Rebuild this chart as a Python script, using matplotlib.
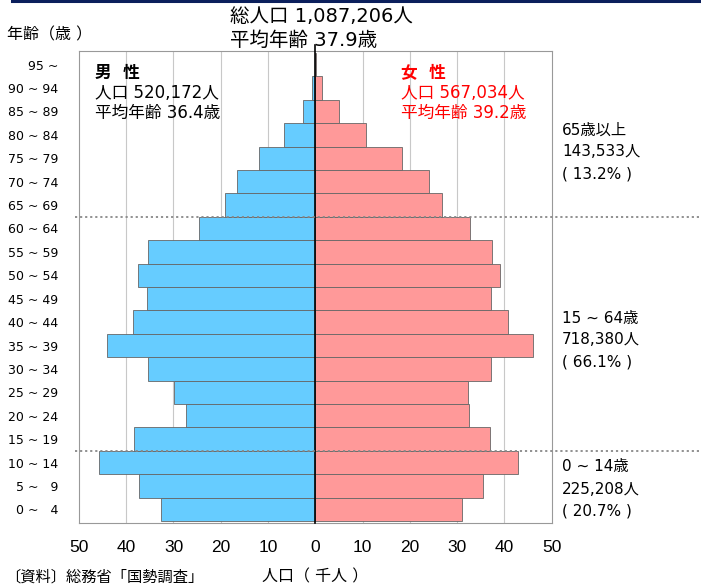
import matplotlib.pyplot as plt
from matplotlib.lines import Line2D

plt.rcParams["font.family"] = ["DejaVu Sans", "Noto Sans CJK JP"]

# ── Data (thousand persons), bottom row first ────────────────────────────────
AGES = ["0 ~ \u20074", "5 ~ \u20079", "10 ~ 14", "15 ~ 19", "20 ~ 24", "25 ~ 29",
        "30 ~ 34", "35 ~ 39", "40 ~ 44", "45 ~ 49", "50 ~ 54", "55 ~ 59",
        "60 ~ 64", "65 ~ 69", "70 ~ 74", "75 ~ 79", "80 ~ 84", "85 ~ 89",
        "90 ~ 94", "95 ~"]
MALE = [32.6, 37.4, 45.8, 38.3, 27.3, 29.9, 35.5, 44.1, 38.6, 35.7,
        37.6, 35.5, 24.7, 19.2, 16.5, 11.9, 6.6, 2.5, 0.7, 0.1]
FEMALE = [31.0, 35.6, 43.0, 36.9, 32.5, 32.3, 37.3, 46.0, 40.8, 37.1,
          39.2, 37.4, 32.8, 26.9, 24.0, 18.3, 10.7, 5.1, 1.4, 0.2]
XTICKS = [-50, -40, -30, -20, -10, 0, 10, 20, 30, 40, 50]

BLUE = "#66CCFF"
PINK = "#FF9999"
EDGE = "#666666"
W, H = 701, 585


def fx(px):
    return px / W


def fy(py):
    return 1 - py / H


fig = plt.figure(figsize=(W / 100, H / 100), dpi=100)
ax = fig.add_axes([fx(79), fy(523), fx(551.5) - fx(79), fy(51) - fy(523)])

ys = list(range(len(AGES)))
ax.barh(ys, [-m for m in MALE], height=1.0, color=BLUE, edgecolor=EDGE,
        linewidth=0.6, zorder=2)
ax.barh(ys, FEMALE, height=1.0, color=PINK, edgecolor=EDGE,
        linewidth=0.6, zorder=2)

# grid lines
for x in XTICKS[1:-1]:
    if x != 0:
        ax.axvline(x, color="#c8c8c8", lw=0.8, zorder=1)
ax.axvline(0, ymin=0, ymax=1.013, color="black", lw=1.2, zorder=3, clip_on=False)

# age-group dividers (65+, 15-64, 0-14)
for yb in (12.5, 2.5):
    ax.axhline(yb, xmin=-0.008, xmax=1.314, color="#888888", lw=1.3,
               ls=(0, (1.2, 1.6)), zorder=4, clip_on=False)

ax.set_xlim(-50, 50)
ax.set_ylim(-0.58, len(AGES) - 0.42)
ax.set_xticks(XTICKS)
ax.set_xticklabels([str(abs(t)) for t in XTICKS], fontsize=12.5,
                   family="Liberation Sans")
ax.set_yticks(ys)
ax.set_yticklabels(AGES, fontsize=9)
ax.tick_params(axis="x", length=0, pad=12)
ax.tick_params(axis="y", length=0, pad=15)
for s in ax.spines.values():
    s.set_color("#999999")
    s.set_linewidth(0.8)

# top navy rule
fig.add_artist(Line2D([fx(12), 1], [fy(1), fy(1)], color="#0b1f5c", lw=2.2))

# titles
fig.text(fx(230), fy(17), "総人口 1,087,206人", fontsize=14, va="center")
fig.text(fx(230), fy(40), "平均年齢 37.9歳", fontsize=14, va="center")
fig.text(fx(7), fy(35), "年齢（歳 ）", fontsize=11.5, va="center")

# sex blocks
fig.text(fx(95), fy(73), "男  性", fontsize=12, fontweight="bold", va="center")
fig.text(fx(95), fy(93), "人口 520,172人", fontsize=12, va="center")
fig.text(fx(95), fy(113), "平均年齢 36.4歳", fontsize=12, va="center")
fig.text(fx(401), fy(73), "女  性", fontsize=12, fontweight="bold", va="center",
         color="red")
fig.text(fx(401), fy(93), "人口 567,034人", fontsize=12, va="center", color="red")
fig.text(fx(401), fy(113), "平均年齢 39.2歳", fontsize=12, va="center", color="red")

# age-band summaries
for y0, lines in ((130, ["65歳以上", "143,533人", "( 13.2% )"]),
                  (318, ["15 ~ 64歳", "718,380人", "( 66.1% )"]),
                  (467, ["0 ~ 14歳", "225,208人", "( 20.7% )"])):
    for k, t in enumerate(lines):
        fig.text(fx(562), fy(y0 + 22 * k), t, fontsize=11, va="center")

# footer
fig.text(fx(5), fy(577), "〔資料〕総務省「国勢調査」", fontsize=11, va="center")
fig.text(fx(262), fy(577), "人口（ 千人 ）", fontsize=11.5, va="center")

fig.savefig("out.png", dpi=100, facecolor="white")
